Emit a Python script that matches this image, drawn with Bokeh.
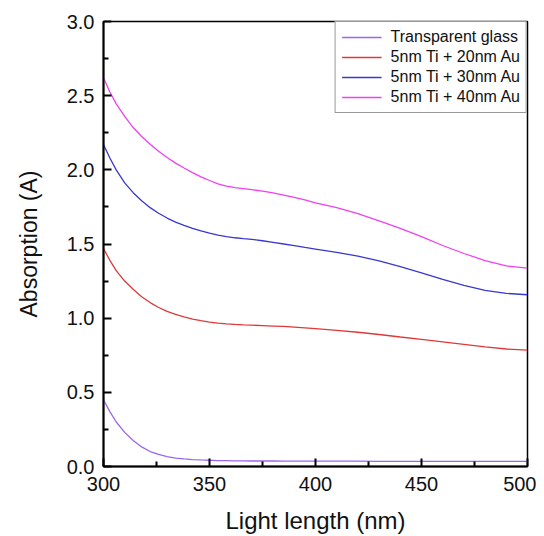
from bokeh.plotting import figure
from bokeh.models import ColumnDataSource, Legend, LegendItem, FixedTicker, NumeralTickFormatter
from bokeh.embed import file_html
from bokeh.resources import INLINE

wavelength = [300, 303, 306, 310, 314, 318, 322, 326, 330, 334, 338, 342, 346, 350,
              354, 358, 362, 366, 370, 375, 380, 385, 390, 395, 400, 410, 420, 430,
              440, 450, 460, 470, 480, 490, 500]

glass = [0.45, 0.37, 0.30, 0.23, 0.175, 0.132, 0.101, 0.081, 0.067, 0.057, 0.051, 0.047,
         0.044, 0.042, 0.040, 0.039, 0.038, 0.038, 0.037, 0.037, 0.037, 0.036, 0.036,
         0.036, 0.036, 0.036, 0.036, 0.035, 0.035, 0.035, 0.035, 0.035, 0.035, 0.035, 0.035]

au20 = [1.47, 1.39, 1.32, 1.25, 1.195, 1.145, 1.105, 1.072, 1.046, 1.025, 1.008, 0.994,
        0.983, 0.974, 0.967, 0.962, 0.958, 0.955, 0.953, 0.950, 0.947, 0.944, 0.939,
        0.934, 0.929, 0.918, 0.905, 0.890, 0.873, 0.857, 0.840, 0.823, 0.806, 0.792, 0.784]

au30 = [2.17, 2.08, 2.00, 1.912, 1.846, 1.792, 1.745, 1.707, 1.675, 1.648, 1.625, 1.605,
        1.588, 1.573, 1.560, 1.550, 1.542, 1.536, 1.531, 1.522, 1.511, 1.500, 1.489,
        1.477, 1.466, 1.444, 1.418, 1.386, 1.347, 1.305, 1.262, 1.221, 1.188, 1.167, 1.158]

au40 = [2.62, 2.525, 2.445, 2.36, 2.285, 2.225, 2.172, 2.125, 2.083, 2.045, 2.012, 1.981,
        1.953, 1.928, 1.906, 1.890, 1.880, 1.873, 1.866, 1.856, 1.844, 1.830, 1.814,
        1.797, 1.778, 1.745, 1.704, 1.656, 1.605, 1.550, 1.490, 1.436, 1.388, 1.352, 1.338]

series_names = ["Transparent glass", "5nm Ti + 20nm Au", "5nm Ti + 30nm Au", "5nm Ti + 40nm Au"]
series_colors = ["#9966f0", "#e03838", "#3838d0", "#f040f0"]

x_ticks = [300, 350, 400, 450, 500]
y_ticks = [0.0, 0.5, 1.0, 1.5, 2.0, 2.5, 3.0]

src = ColumnDataSource(dict(x=wavelength, glass=glass, au20=au20, au30=au30, au40=au40))

p = figure(width=536, height=536, output_backend="svg", toolbar_location=None,
           x_range=(300, 500), y_range=(0, 3.0),
           min_border_left=103, min_border_right=9, min_border_top=21, min_border_bottom=69)

p.xgrid.visible = False
p.ygrid.visible = False
p.outline_line_color = "black"
p.outline_line_width = 1.5
p.outline_line_alpha = 1.0

renderers = []
for key, col in zip(["glass", "au20", "au30", "au40"], series_colors):
    r = p.line("x", key, source=src, line_color=col, line_width=1.3)
    renderers.append(r)

legend = Legend(items=[LegendItem(label=n, renderers=[r]) for n, r in zip(series_names, renderers)],
                location="top_right")
legend.margin = 0
legend.padding = 6
legend.spacing = 2
legend.glyph_width = 40
legend.glyph_height = 18
legend.label_height = 18
legend.label_standoff = 9
legend.label_text_font = "Liberation Sans"
legend.label_text_font_size = "16px"
legend.label_text_color = "#111111"
legend.border_line_color = "#333333"
legend.border_line_width = 1
legend.background_fill_alpha = 1.0
p.add_layout(legend, "center")

for ax in (p.xaxis[0], p.yaxis[0]):
    ax.axis_line_width = 2
    ax.axis_line_color = "black"
    ax.major_tick_in = 8
    ax.major_tick_out = 0
    ax.minor_tick_in = 5
    ax.minor_tick_out = 0
    ax.major_tick_line_width = 2
    ax.minor_tick_line_width = 2
    ax.major_tick_line_color = "black"
    ax.minor_tick_line_color = "black"
    ax.major_label_text_font = "Liberation Sans"
    ax.major_label_text_font_size = "20px"
    ax.major_label_text_color = "#111111"
    ax.axis_label_text_font = "Liberation Sans"
    ax.axis_label_text_font_style = "normal"
    ax.axis_label_text_color = "#111111"

p.xaxis.axis_label_text_font_size = "24px"
p.yaxis.axis_label_text_font_size = "23px"

p.xaxis.ticker = FixedTicker(ticks=x_ticks, minor_ticks=[325, 375, 425, 475])
p.yaxis.ticker = FixedTicker(ticks=y_ticks, minor_ticks=[0.25, 0.75, 1.25, 1.75, 2.25, 2.75])
p.yaxis.formatter = NumeralTickFormatter(format="0.0")

p.xaxis.axis_label = "Light length (nm)"
p.yaxis.axis_label = "Absorption (A)"
p.xaxis.major_label_standoff = 10
p.yaxis.major_label_standoff = 9
p.xaxis.axis_label_standoff = 13
p.yaxis.axis_label_standoff = 22

open("out.html", "w").write(file_html(p, INLINE))
